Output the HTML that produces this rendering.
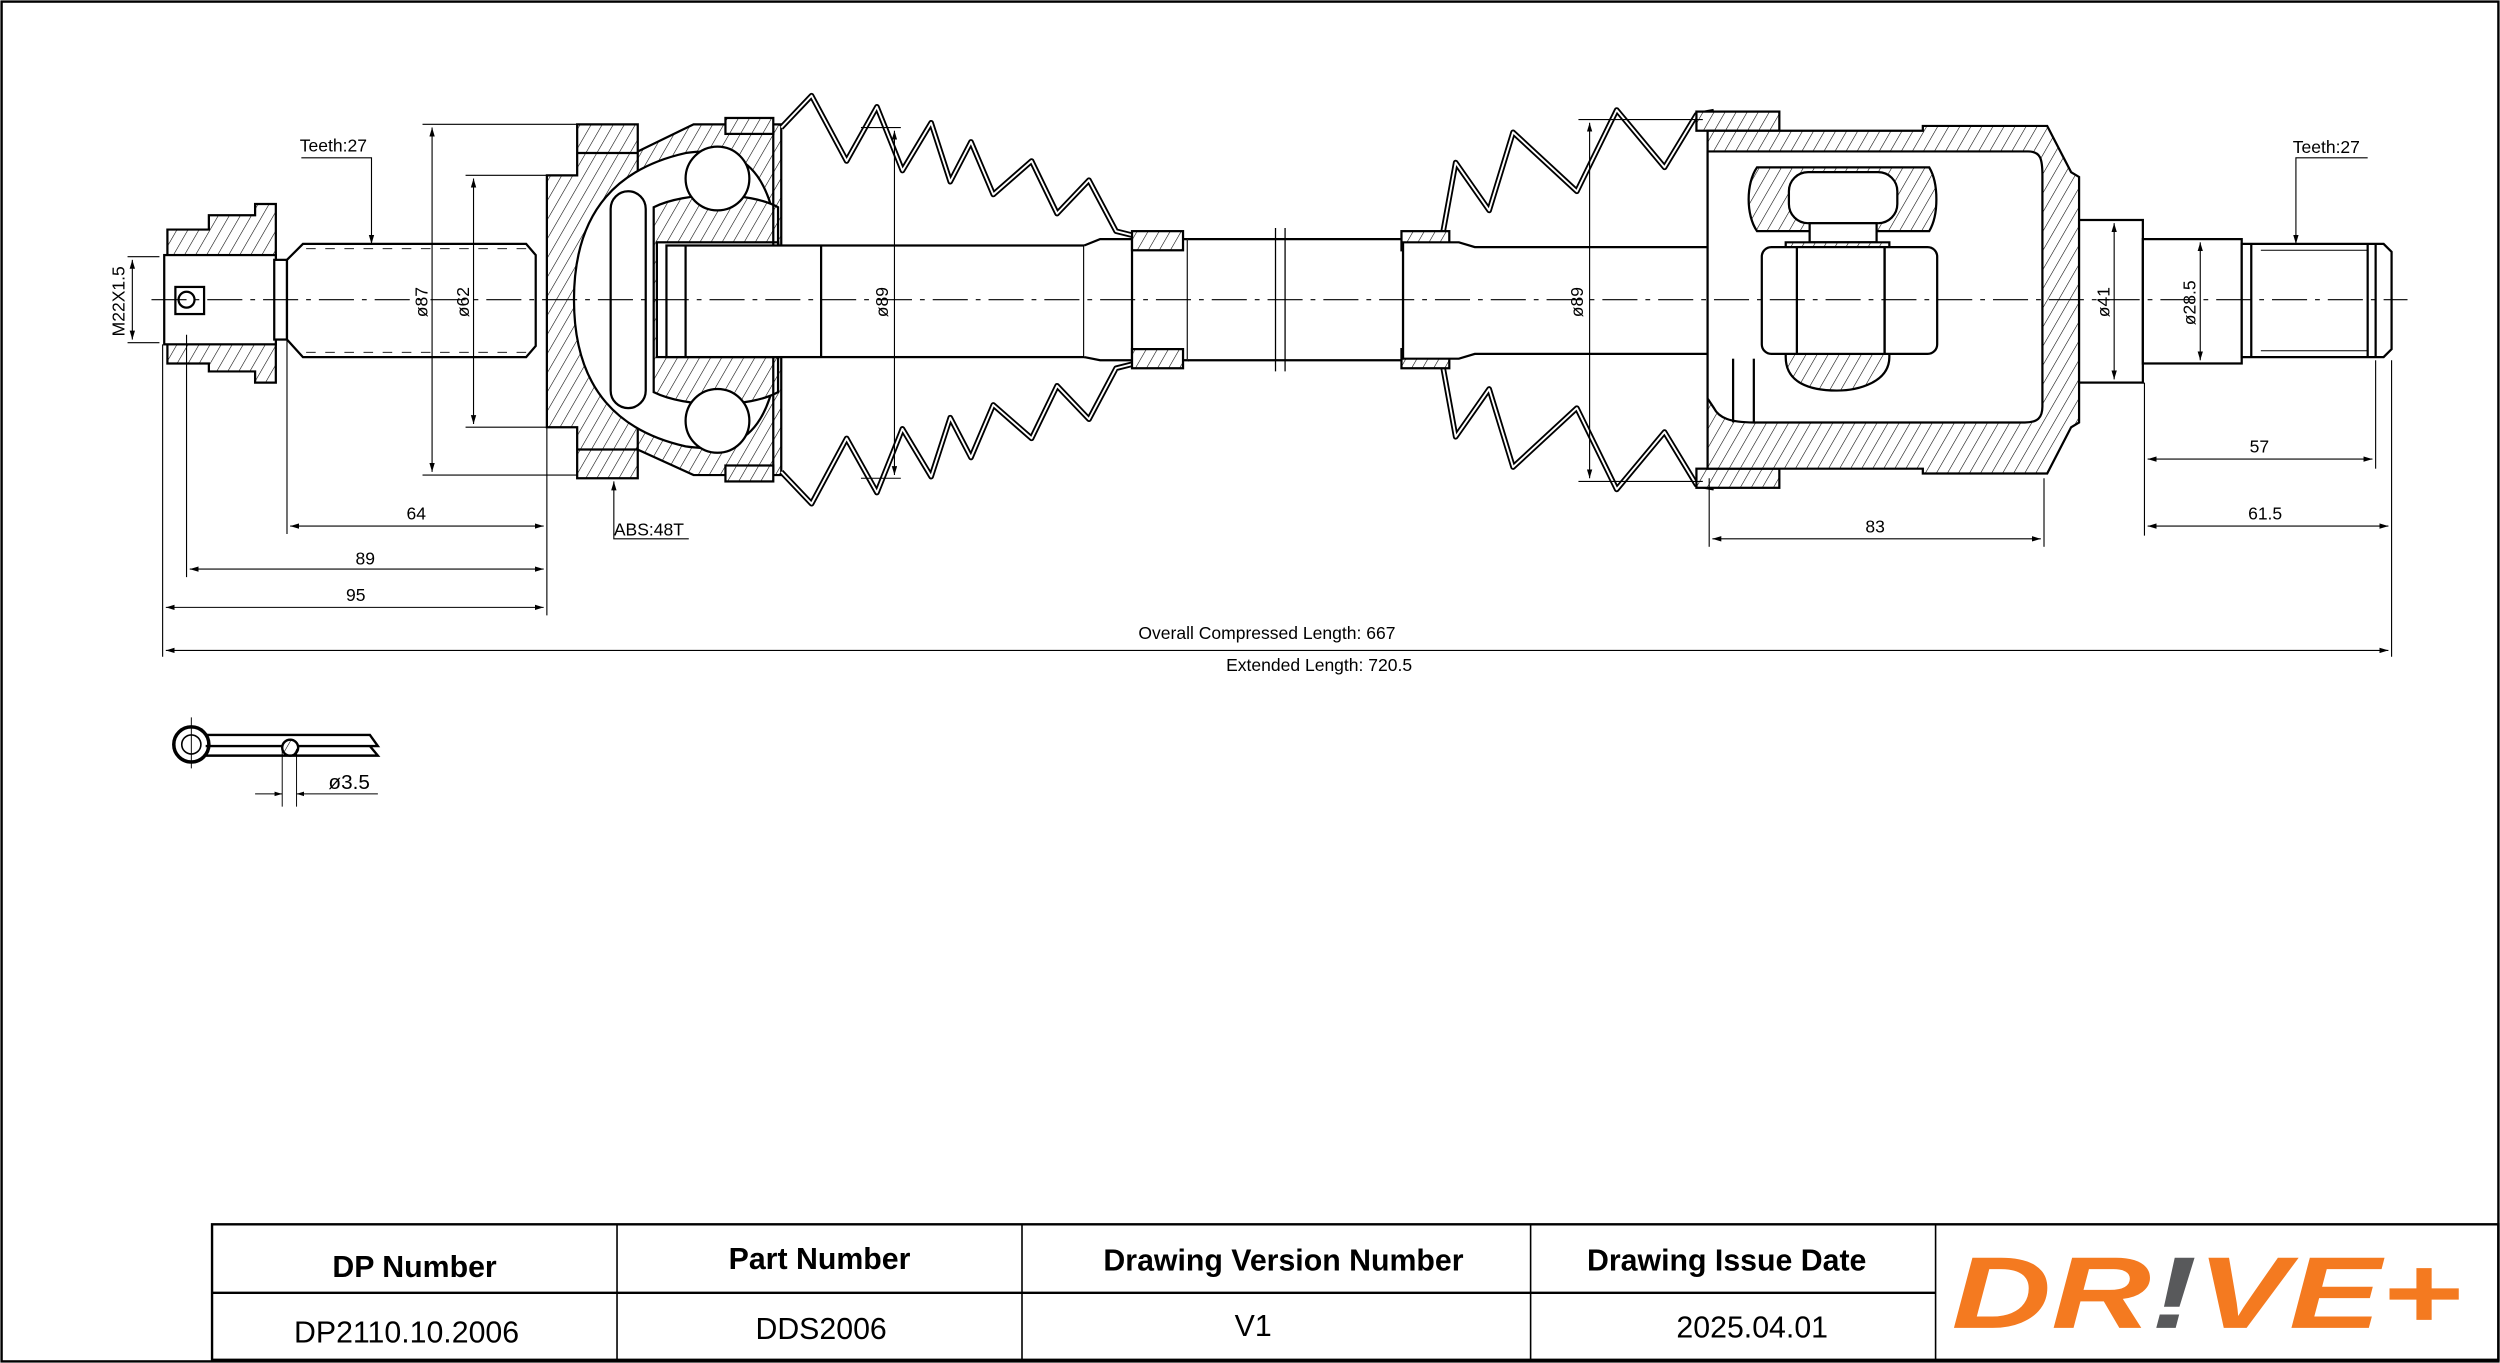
<!DOCTYPE html>
<html><head><meta charset="utf-8"><style>
html,body{margin:0;padding:0;background:#fff;width:2500px;height:1363px;overflow:hidden}
svg{display:block}
text{font-family:"Liberation Sans",sans-serif;fill:#000}
</style></head><body>
<svg width="2500" height="1363" viewBox="0 0 1568 855" preserveAspectRatio="none" xmlns="http://www.w3.org/2000/svg">
<defs>
<pattern id="h" width="6" height="6" patternUnits="userSpaceOnUse" patternTransform="rotate(30)">
<rect width="6" height="6" fill="#fff"/><line x1="0" y1="0" x2="0" y2="6" stroke="#000" stroke-width="0.7"/>
</pattern>
<marker id="a" viewBox="0 0 10 6" refX="10" refY="3" markerWidth="8" markerHeight="5" orient="auto-start-reverse"><path d="M0,0L10,3L0,6z" fill="#000"/></marker>
</defs>
<rect x="1" y="1" width="1566" height="853" fill="none" stroke="#000" stroke-width="1.5"/>

<g fill="none" stroke="#000" stroke-width="1.4">
<!-- left nut -->
<path d="M105,144 H131 V135 H160 V128 H173 V240 H160 V233 H131 V228 H105 Z" fill="url(#h)"/>
<rect x="103" y="160" width="70" height="56" fill="#fff"/>
<rect x="110" y="180" width="18" height="17" fill="#fff"/>
<circle cx="117" cy="188" r="5"/>
<rect x="172" y="163" width="8" height="50" fill="#fff"/>
<!-- threaded shaft -->
<path d="M180,163 L190,153 H330 L336,160 V217 L330,224 H190 L180,213 Z" fill="#fff"/>
<line x1="192" y1="156" x2="330" y2="156" stroke-width="0.6" stroke-dasharray="6,6"/>
<line x1="192" y1="221" x2="330" y2="221" stroke-width="0.6" stroke-dasharray="6,6"/>
<!-- outer bell -->
<path d="M343,110 H362 V78 H400 V95 L435,78 H490 V298 H435 L400,282 V300 H362 V268 H343 Z" fill="url(#h)"/>
<path d="M400,95 V282" />
<line x1="362" y1="96" x2="400" y2="96"/><line x1="362" y1="282" x2="400" y2="282"/>
<path d="M360,188 C360,130 390,105 430,96 C470,90 490,110 490,188 C490,266 470,286 430,280 C390,271 360,246 360,188 Z" fill="#fff"/>
<rect x="383" y="120" width="22" height="136" rx="11" fill="#fff"/>
<path d="M410,130 C430,120 470,120 488,130 V246 C470,256 430,256 410,246 Z" fill="url(#h)"/>
<rect x="412" y="152" width="76" height="72" fill="#fff"/>
<circle cx="450" cy="112" r="20" fill="#fff"/><circle cx="450" cy="264" r="20" fill="#fff"/>
<line x1="485" y1="80" x2="485" y2="296"/>
<rect x="455" y="74" width="30" height="10" fill="url(#h)"/>
<rect x="455" y="292" width="30" height="10" fill="url(#h)"/>
<!-- shaft -->
<rect x="418" y="154" width="262" height="70" fill="#fff"/>
<line x1="430" y1="154" x2="430" y2="224"/><line x1="515" y1="154" x2="515" y2="224"/>
<path d="M680,154 L690,150 H745 V226 H690 L680,224" fill="#fff"/>
<path d="M745,150 H880 V226 H745" fill="#fff"/>
<line x1="800" y1="143" x2="800" y2="233" stroke-width="0.8"/><line x1="806" y1="143" x2="806" y2="233" stroke-width="0.8"/>
<line x1="710" y1="150" x2="710" y2="226"/>
<!-- left boot -->
<path d="M490,80 L509,60 L531,101 L550,67 L566,107 L584,77 L596,114 L609,89 L623,122 L647,101 L663,134 L683,113 L700,145 L712,148" stroke-width="3.5" stroke-linejoin="round"/>
<path d="M490,80 L509,60 L531,101 L550,67 L566,107 L584,77 L596,114 L609,89 L623,122 L647,101 L663,134 L683,113 L700,145 L712,148" stroke="#fff" stroke-width="1.2" stroke-linejoin="round"/>
<path d="M490,296 L509,316 L531,275 L550,309 L566,269 L584,299 L596,262 L609,287 L623,254 L647,275 L663,242 L683,263 L700,231 L712,228" stroke-width="3.5" stroke-linejoin="round"/>
<path d="M490,296 L509,316 L531,275 L550,309 L566,269 L584,299 L596,262 L609,287 L623,254 L647,275 L663,242 L683,263 L700,231 L712,228" stroke="#fff" stroke-width="1.2" stroke-linejoin="round"/>
<rect x="710" y="145" width="32" height="12" fill="url(#h)"/><rect x="710" y="219" width="32" height="12" fill="url(#h)"/>
<!-- right boot -->
<path d="M905,146 L913,102 L934,132 L949,83 L989,120 L1014,69 L1044,105 L1064,72 L1075,70" stroke-width="3.5" stroke-linejoin="round"/>
<path d="M905,146 L913,102 L934,132 L949,83 L989,120 L1014,69 L1044,105 L1064,72 L1075,70" stroke="#fff" stroke-width="1.2" stroke-linejoin="round"/>
<path d="M905,230 L913,274 L934,244 L949,293 L989,256 L1014,307 L1044,271 L1064,304 L1075,306" stroke-width="3.5" stroke-linejoin="round"/>
<path d="M905,230 L913,274 L934,244 L949,293 L989,256 L1014,307 L1044,271 L1064,304 L1075,306" stroke="#fff" stroke-width="1.2" stroke-linejoin="round"/>
<rect x="879" y="145" width="30" height="12" fill="url(#h)"/><rect x="879" y="219" width="30" height="12" fill="url(#h)"/>
<rect x="1064" y="70" width="52" height="12" fill="url(#h)"/><rect x="1064" y="294" width="52" height="12" fill="url(#h)"/>
<!-- inner shaft -->
<path d="M880,152 H915 L925,155 H1110 V222 H925 L915,225 H880 Z" fill="#fff"/>
<!-- inner housing -->
<path d="M1071,82 H1206 V79 H1284 L1299,108 L1304,111 V265 L1299,268 L1284,297 H1206 V294 H1071 Z" fill="url(#h)"/>
<path d="M1071,95 H1272 C1280,95 1281,100 1281,110 V255 C1281,262 1278,265 1270,265 H1100 C1085,265 1078,262 1075,256 L1071,250 Z" fill="#fff"/>
<path d="M1102,105 C1095,115 1095,135 1102,145 H1210 C1216,135 1216,115 1210,105 Z" fill="url(#h)"/>
<rect x="1122" y="108" width="68" height="32" rx="12" fill="#fff"/>
<rect x="1135" y="140" width="42" height="12" fill="#fff"/>
<path d="M1120,152 H1185 V224 C1185,240 1165,245 1152,245 C1135,245 1120,240 1120,224 Z" fill="url(#h)"/>
<rect x="1105" y="155" width="110" height="67" rx="6" fill="#fff"/>
<rect x="1127" y="155" width="55" height="67" fill="#fff"/>
<line x1="1182" y1="155" x2="1182" y2="222"/>
<line x1="1087" y1="225" x2="1087" y2="265"/><line x1="1100" y1="225" x2="1100" y2="265"/>
<!-- stub -->
<rect x="1304" y="138" width="40" height="102" fill="#fff"/>
<rect x="1344" y="150" width="62" height="78" fill="#fff"/>
<path d="M1406,153 H1495 L1500,158 V219 L1495,224 H1406 Z" fill="#fff"/>
<line x1="1412" y1="153" x2="1412" y2="224"/><line x1="1485" y1="153" x2="1485" y2="224"/><line x1="1490" y1="153" x2="1490" y2="224"/>
<line x1="1418" y1="157" x2="1485" y2="157" stroke-width="0.6"/><line x1="1418" y1="220" x2="1485" y2="220" stroke-width="0.6"/>
</g>

<!-- centerline -->
<line x1="95" y1="188" x2="1510" y2="188" stroke="#000" stroke-width="0.7" stroke-dasharray="22,5,3,5"/>

<!-- dimensions -->
<g stroke="#000" stroke-width="0.7" fill="none">
<line x1="265" y1="78" x2="362" y2="78"/><line x1="265" y1="298" x2="362" y2="298"/>
<line x1="271" y1="80" x2="271" y2="296" marker-start="url(#a)" marker-end="url(#a)"/>
<line x1="292" y1="110" x2="343" y2="110"/><line x1="292" y1="268" x2="343" y2="268"/>
<line x1="297" y1="112" x2="297" y2="266" marker-start="url(#a)" marker-end="url(#a)"/>
<line x1="540" y1="80" x2="565" y2="80"/><line x1="540" y1="300" x2="565" y2="300"/>
<line x1="561" y1="82" x2="561" y2="298" marker-start="url(#a)" marker-end="url(#a)"/>
<line x1="990" y1="75" x2="1068" y2="75"/><line x1="990" y1="302" x2="1068" y2="302"/>
<line x1="997" y1="77" x2="997" y2="300" marker-start="url(#a)" marker-end="url(#a)"/>
<line x1="1326" y1="140" x2="1326" y2="238" marker-start="url(#a)" marker-end="url(#a)"/>
<line x1="1380" y1="152" x2="1380" y2="226" marker-start="url(#a)" marker-end="url(#a)"/>
<line x1="80" y1="161" x2="100" y2="161"/><line x1="80" y1="215" x2="100" y2="215"/>
<line x1="83" y1="163" x2="83" y2="213" marker-start="url(#a)" marker-end="url(#a)"/>
<!-- left extension lines -->
<line x1="102" y1="216" x2="102" y2="412"/><line x1="117" y1="210" x2="117" y2="362"/>
<line x1="180" y1="213" x2="180" y2="335"/><line x1="343" y1="268" x2="343" y2="386"/>
<line x1="182" y1="330" x2="341" y2="330" marker-start="url(#a)" marker-end="url(#a)"/>
<line x1="119" y1="357" x2="341" y2="357" marker-start="url(#a)" marker-end="url(#a)"/>
<line x1="104" y1="381" x2="341" y2="381" marker-start="url(#a)" marker-end="url(#a)"/>
<line x1="104" y1="408" x2="1498" y2="408" marker-start="url(#a)" marker-end="url(#a)"/>
<!-- right -->
<line x1="1072" y1="300" x2="1072" y2="343"/><line x1="1282" y1="300" x2="1282" y2="343"/>
<line x1="1074" y1="338" x2="1280" y2="338" marker-start="url(#a)" marker-end="url(#a)"/>
<line x1="1345" y1="240" x2="1345" y2="336"/><line x1="1490" y1="226" x2="1490" y2="294"/><line x1="1500" y1="226" x2="1500" y2="412"/>
<line x1="1347" y1="288" x2="1488" y2="288" marker-start="url(#a)" marker-end="url(#a)"/>
<line x1="1347" y1="330" x2="1498" y2="330" marker-start="url(#a)" marker-end="url(#a)"/>
<!-- leaders -->
<polyline points="189,99 233,99 233,153" marker-end="url(#a)"/>
<polyline points="1485,99 1440,99 1440,153" marker-end="url(#a)"/>
<polyline points="432,338 385,338 385,302" marker-end="url(#a)"/>
</g>

<g font-size="11">
<text x="188" y="95">Teeth:27</text>
<text x="1438" y="96">Teeth:27</text>
<text x="385" y="336">ABS:48T</text>
<text x="255" y="326">64</text>
<text x="223" y="354">89</text>
<text x="217" y="377">95</text>
<text x="1170" y="334">83</text>
<text x="1411" y="284">57</text>
<text x="1410" y="326">61.5</text>
<text x="714" y="401">Overall  Compressed  Length: 667</text>
<text x="769" y="421">Extended  Length: 720.5</text>
<text transform="translate(268,199) rotate(-90)">ø87</text>
<text transform="translate(294,199) rotate(-90)">ø62</text>
<text transform="translate(557,199) rotate(-90)">ø89</text>
<text transform="translate(993,199) rotate(-90)">ø89</text>
<text transform="translate(1323,199) rotate(-90)">ø41</text>
<text transform="translate(1377,204) rotate(-90)">ø28.5</text>
<text transform="translate(78,211) rotate(-90)">M22X1.5</text>
<text x="206" y="495" font-size="13">ø3.5</text>
</g>

<!-- cotter pin -->
<g fill="none" stroke="#000">
<circle cx="120" cy="467" r="11" stroke-width="2.2"/><circle cx="120" cy="467" r="6" stroke-width="1"/>
<path d="M129,461 H232 L237,468 H129 M129,468 H232 L237,474 H129" stroke-width="1.5"/>
<circle cx="182" cy="469" r="5" fill="url(#h)" stroke-width="1.5"/>
<line x1="120" y1="450" x2="120" y2="482" stroke-width="0.6"/>
<line x1="177" y1="470" x2="177" y2="506" stroke-width="0.6"/><line x1="186" y1="470" x2="186" y2="506" stroke-width="0.6"/>
<line x1="160" y1="498" x2="177" y2="498" stroke-width="0.6" marker-end="url(#a)"/>
<line x1="237" y1="498" x2="186" y2="498" stroke-width="0.6" marker-end="url(#a)"/>
</g>

<!-- table -->
<g stroke="#000" fill="none">
<rect x="133" y="768" width="1434" height="85" stroke-width="1.5"/>
<line x1="133" y1="811" x2="1214" y2="811" stroke-width="1.5"/>
<line x1="387" y1="768" x2="387" y2="853"/><line x1="641" y1="768" x2="641" y2="853"/>
<line x1="960" y1="768" x2="960" y2="853"/><line x1="1214" y1="768" x2="1214" y2="853"/>
</g>
<g font-size="19" text-anchor="middle">
<text x="260" y="801" font-weight="bold">DP Number</text>
<text x="514" y="796" font-weight="bold">Part Number</text>
<text x="805" y="797" font-weight="bold">Drawing Version Number</text>
<text x="1083" y="797" font-weight="bold">Drawing Issue Date</text>
<text x="255" y="842">DP2110.10.2006</text>
<text x="515" y="840">DDS2006</text>
<text x="786" y="838">V1</text>
<text x="1099" y="839">2025.04.01</text>
</g>
<text x="1224" y="833" font-size="64" font-weight="bold" font-style="italic" style="fill:#F47A20" textLength="320" lengthAdjust="spacingAndGlyphs">DR<tspan style="fill:#58595B">!</tspan>VE+</text>
</svg>
</body></html>
